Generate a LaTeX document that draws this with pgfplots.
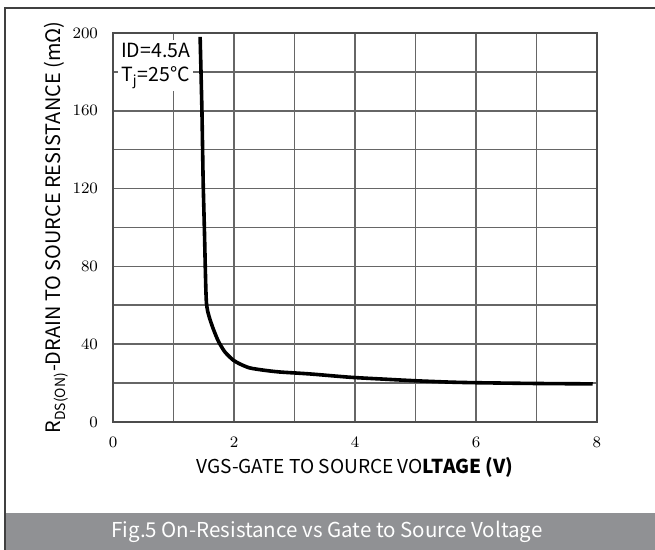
\documentclass[border=0pt]{standalone}
\usepackage{fontspec}
\setmainfont{Noto Sans CJK SC}
\usepackage{pgfplots}
\pgfplotsset{compat=1.18}
\definecolor{gridc}{HTML}{666666}
\definecolor{banner}{HTML}{909194}
\begin{document}
\begin{tikzpicture}[x=1bp,y=1bp]
\useasboundingbox (0,0) rectangle (327.5,275);
\fill[banner] (2.5,0) rectangle (327.5,18.5);
\draw[black!75, line width=1bp] (2.3,0) -- (2.3,271) -- (327.5,271);
\node[white, font=\fontsize{10.3}{12}\selectfont] at (163.5,9.25) {Fig.5 On-Resistance vs Gate to Source Voltage};
\begin{axis}[
  at={(56.5bp,64bp)}, anchor=south west, scale only axis,
  width=242bp, height=194.5bp,
  xmin=0, xmax=8, ymin=0, ymax=200,
  xtick={0,2,4,6,8}, minor xtick={1,3,5,7},
  ytick={0,40,...,200}, minor ytick={20,60,100,140,180},
  grid=both,
  major grid style={gridc, line width=0.8bp},
  minor grid style={gridc, line width=0.8bp},
  major tick length=0, minor tick length=0,
  axis line style={black!70, line width=0.9bp},
  tick label style={font=\fontsize{8}{9}\selectfont},
  xticklabel style={yshift=-4bp},
  yticklabel style={xshift=-4bp},
  xlabel={VGS-GATE TO SOURCE VO\textbf{LTAGE (V)}},
  xlabel style={at={(axis description cs:0.5,-0.118)}, anchor=center, font=\fontsize{9.6}{12}\selectfont},
  ylabel={R\textsubscript{DS(ON)}-DRAIN TO SOURCE RESISTANCE (mΩ)},
  ylabel style={at={(axis description cs:-0.1178,0.5)}, anchor=center, font=\fontsize{10}{12}\selectfont},
]
\addplot[black, line width=1.8bp, smooth, tension=0.4] coordinates {
(1.44,198) (1.47,160) (1.49,124) (1.51,100) (1.525,80) (1.535,68) (1.545,61)
(1.565,57) (1.6,53) (1.65,48.5) (1.7,44.5) (1.75,41) (1.85,36) (1.98,32) (2.1,29.8)
(2.26,27.8) (2.5,26.6) (2.76,25.7) (3.26,24.7) (3.92,23) (4.5,22) (5,21.2)
(5.57,20.5) (6,20.2) (7,19.8) (7.93,19.6)
};
\node[fill=white, anchor=north west, align=left, inner sep=1.5bp, font=\fontsize{9.8}{12}\selectfont]
  at (axis cs:0.08,196.5) {ID=4.5A\\T\textsubscript{j}=25°C};
\end{axis}
\end{tikzpicture}
\end{document}
